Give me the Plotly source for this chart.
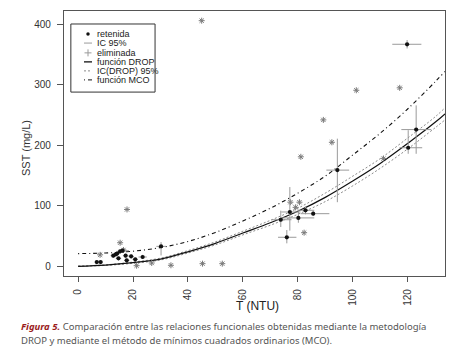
import plotly.graph_objects as go

# ---------------- data ----------------
# retained points (retenida) and their 95% confidence intervals
ret_x = [6.8, 8.2, 12.8, 13.7, 14.2, 14.7, 15.3, 16.2, 17.3, 17.7, 19.3, 20.8, 23.5, 30.2,
         73.8, 76.0, 77.1, 80.2, 82.8, 85.6, 94.4, 119.8, 120.2, 123.1]
ret_y = [7, 7, 17.6, 19.8, 21, 13.2, 24.8, 25.9, 17.6, 9.9, 16.5, 11.6, 15.4, 33,
         77, 48, 89.8, 80, 92.6, 87, 159, 367, 196, 226]
ret_x_lo = [6.0, 7.4, 11.8, 12.7, 13.2, 13.7, 14.0, 14.8, 16.3, 16.7, 18.3, 19.8, 22.0, 28.5,
            70.4, 72.8, 74.0, 74.0, 80.0, 81.0, 90.4, 114.4, 117.0, 117.7]
ret_x_hi = [7.6, 9.0, 13.8, 14.7, 15.2, 15.7, 16.6, 18.5, 18.3, 18.7, 20.3, 21.8, 25.0, 32.0,
            77.7, 79.5, 81.0, 86.0, 86.0, 91.5, 98.7, 125.0, 125.3, 128.6]
ret_y_lo = [5, 5, 14, 16, 18, 10, 21, 22, 14, 7, 13, 9, 12, 18,
            65, 38, 59, 72, 86, 83, 106, 360, 186, 186]
ret_y_hi = [9, 9, 21, 23, 24, 16, 28, 30, 21, 13, 20, 14, 19, 40,
            92, 60, 131, 90, 99, 91, 211, 374, 225, 266]

# eliminated points (eliminada)
eli_x = [8.0, 15.3, 16.5, 17.8, 21.3, 26.8, 33.8, 45.0, 45.3, 52.5, 77.3, 79.2, 80.6,
         81.1, 82.3, 89.3, 92.4, 101.3, 111.2, 117.1]
eli_y = [19, 39, 27, 94, 1, 5.5, 1.7, 406, 4.4, 4.4, 106, 97.5, 106,
         181, 55.6, 242, 205, 291, 178, 295]

# fitted functions
curve_t = [0, 10, 20, 30, 40, 50, 60, 70, 80, 90, 100, 110, 120, 130, 133.6]
drop_y = [0, 2, 6, 12, 24, 38, 55, 72, 91, 114, 141, 170, 203, 238, 252]
drop_lo = [0, 1.5, 5, 10.5, 22, 35.5, 52, 68, 86, 107, 133, 162, 194, 229, 242]
drop_hi = [0.5, 2.5, 7, 13.5, 26, 40.5, 58, 76, 96, 121, 149, 178, 212, 247, 262]
mco_y = [21, 22, 25, 31, 41, 56, 75, 96, 121, 149, 184, 220, 260, 305, 322]

x_ticks = [0, 20, 40, 60, 80, 100, 120]
y_ticks = [0, 100, 200, 300, 400]

legend_labels = ["retenida", "IC 95%", "eliminada", "función DROP", "IC(DROP) 95%", "función MCO"]

caption_1 = ('<span style="color:#9b1c1c"><b><i>Figura 5.</i></b></span> Comparación entre las '
             'relaciones funcionales obtenidas mediante la metodología')
caption_2 = 'DROP y mediante el método de mínimos cuadrados ordinarios (MCO).'

# ---------------- figure ----------------
GREY = "#9a9a9a"
ELI = "#7a7a7a"
MCO_DASH = "1px,3px,4px,3px"
fig = go.Figure()

fig.add_trace(go.Scatter(x=curve_t, y=drop_lo, mode="lines", line=dict(color="#8a8a8a", width=1, dash="2px,2px", shape="spline"), hoverinfo="skip"))
fig.add_trace(go.Scatter(x=curve_t, y=drop_hi, mode="lines", line=dict(color="#8a8a8a", width=1, dash="2px,2px", shape="spline"), hoverinfo="skip"))
fig.add_trace(go.Scatter(x=curve_t, y=drop_y, mode="lines", line=dict(color="#111", width=1.2, shape="spline")))
fig.add_trace(go.Scatter(x=curve_t, y=mco_y, mode="lines", line=dict(color="#111", width=1.1, dash=MCO_DASH, shape="spline")))

fig.add_trace(go.Scatter(
    x=eli_x, y=eli_y, mode="markers",
    marker=dict(symbol="asterisk-open", size=5, color=ELI, line=dict(color=ELI, width=1))))

fig.add_trace(go.Scatter(
    x=ret_x, y=ret_y, mode="markers",
    marker=dict(symbol="circle", size=4.2, color="#111"),
    error_x=dict(type="data", symmetric=False,
                 array=[h - v for h, v in zip(ret_x_hi, ret_x)],
                 arrayminus=[v - l for l, v in zip(ret_x_lo, ret_x)],
                 color=GREY, thickness=1, width=0),
    error_y=dict(type="data", symmetric=False,
                 array=[h - v for h, v in zip(ret_y_hi, ret_y)],
                 arrayminus=[v - l for l, v in zip(ret_y_lo, ret_y)],
                 color=GREY, thickness=1, width=0)))

# ---- manual legend on an overlay axis (0..1 across the plot area) ----
row_y = [0.913, 0.879, 0.842, 0.808, 0.774, 0.740]
sx0, sx1, sxc, tx = 0.0525, 0.0735, 0.063, 0.081
fig.add_trace(go.Scatter(x=[sxc], y=[row_y[0]], xaxis="x2", yaxis="y2", mode="markers",
                         marker=dict(symbol="circle", size=3.5, color="#111")))
fig.add_trace(go.Scatter(x=[sx0, sx1], y=[row_y[1]] * 2, xaxis="x2", yaxis="y2", mode="lines",
                         line=dict(color=GREY, width=1)))
fig.add_trace(go.Scatter(x=[sxc], y=[row_y[2]], xaxis="x2", yaxis="y2", mode="markers",
                         marker=dict(symbol="cross-thin-open", size=5, color=GREY,
                                     line=dict(color=GREY, width=1))))
fig.add_trace(go.Scatter(x=[sx0, sx1], y=[row_y[3]] * 2, xaxis="x2", yaxis="y2", mode="lines",
                         line=dict(color="#111", width=1.3)))
fig.add_trace(go.Scatter(x=[sx0, sx1], y=[row_y[4]] * 2, xaxis="x2", yaxis="y2", mode="lines",
                         line=dict(color="#8a8a8a", width=1, dash="2px,2px")))
fig.add_trace(go.Scatter(x=[sx0, sx1], y=[row_y[5]] * 2, xaxis="x2", yaxis="y2", mode="lines",
                         line=dict(color="#111", width=1, dash=MCO_DASH)))

annotations = []
for lab, yy in zip(legend_labels, row_y):
    annotations.append(dict(x=tx, y=yy, xref="paper", yref="paper", text=lab, showarrow=False,
                            xanchor="left", yanchor="middle",
                            font=dict(family="Liberation Sans", size=9, color="#222")))

annotations += [
    dict(x=0.507, y=-0.115, xref="paper", yref="paper", text="T (NTU)", showarrow=False,
         xanchor="center", yanchor="middle", font=dict(family="Liberation Sans", size=12, color="#222")),
    dict(x=-0.0997, y=0.483, xref="paper", yref="paper", text="SST (mg/L)", showarrow=False,
         textangle=-90, xanchor="center", yanchor="middle",
         font=dict(family="Liberation Sans", size=11, color="#333")),
    dict(x=-0.117, y=-0.191, xref="paper", yref="paper", text=caption_1, showarrow=False,
         xanchor="left", yanchor="middle", font=dict(family="Noto Sans", size=9.5, color="#555")),
    dict(x=-0.117, y=-0.242, xref="paper", yref="paper", text=caption_2, showarrow=False,
         xanchor="left", yanchor="middle", font=dict(family="Noto Sans", size=9.5, color="#555")),
]

fig.update_layout(
    width=454, height=353,
    margin=dict(l=64, r=9, t=11, b=77),
    paper_bgcolor="white", plot_bgcolor="white",
    showlegend=False,
    xaxis=dict(range=[-5.14, 133.6], tickvals=x_ticks, ticks="outside", ticklen=5,
               tickcolor="#555", tickangle=-90, showline=True, mirror=True,
               linecolor="#555", linewidth=1.2, showgrid=False, zeroline=False,
               tickfont=dict(family="Liberation Sans", size=10, color="#333"),
               ticklabelstandoff=3),
    yaxis=dict(range=[-16, 422], tickvals=y_ticks, ticks="outside", ticklen=6,
               tickcolor="#555", showline=True, mirror=True,
               linecolor="#555", linewidth=1.2, showgrid=False, zeroline=False,
               tickfont=dict(family="Liberation Sans", size=10, color="#333"),
               ticklabelstandoff=4),
    xaxis2=dict(range=[0, 1], overlaying="x", visible=False),
    yaxis2=dict(range=[0, 1], overlaying="y", visible=False),
    annotations=annotations,
    shapes=[dict(type="rect", xref="paper", yref="paper", x0=0.018, x1=0.239, y0=0.694, y1=0.951,
                 line=dict(color="#333", width=1), fillcolor="rgba(0,0,0,0)")],
)

fig.write_html("out.html")
